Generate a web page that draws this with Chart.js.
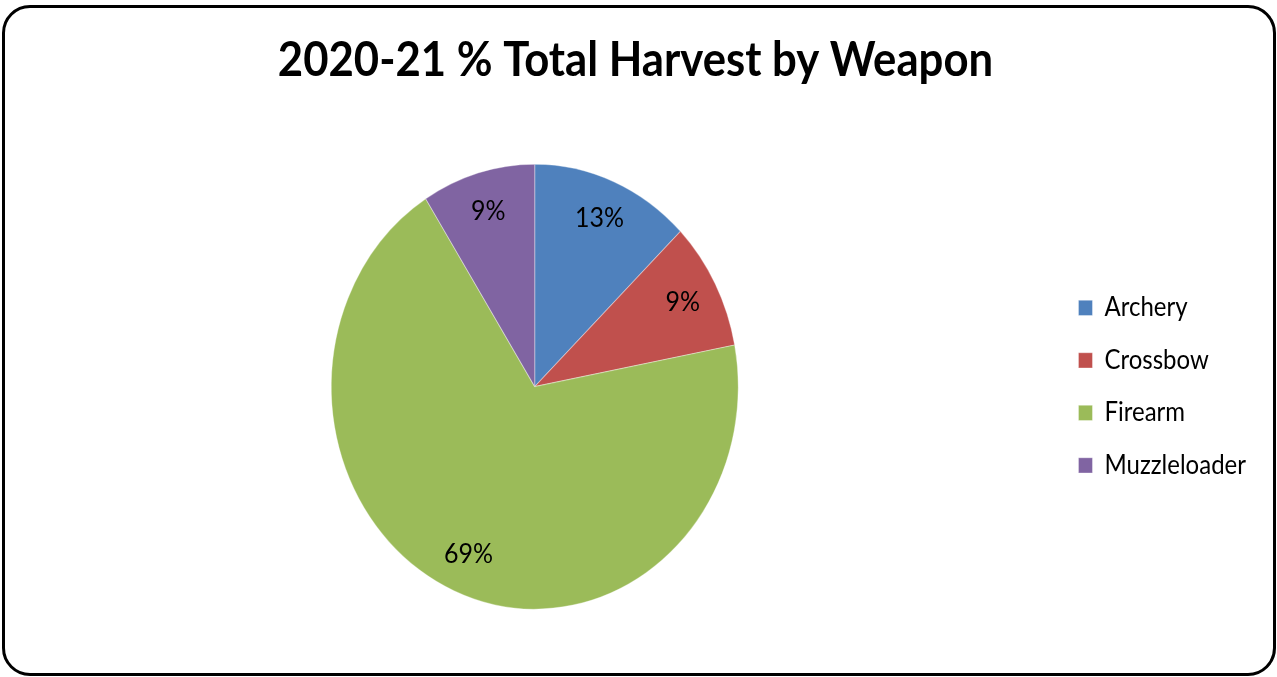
<!DOCTYPE html>
<html lang="en">

<head>
  <meta charset="UTF-8" />
  <title>2020-21 % Total Harvest by Weapon</title>
  <script src="https://cdn.jsdelivr.net/npm/chart.js"></script>
  <style>
    * {
      box-sizing: border-box;
      margin: 0;
      padding: 0
    }

    body {
      background: #fff;
      width: 1277px;
      height: 677px;
      overflow: hidden;
      position: relative
    }

    .frame {
      position: absolute;
      left: 2px;
      top: 5px;
      width: 1274px;
      height: 671px;
      border: 3px solid #000;
      border-radius: 28px
    }

    #grafico {
      position: absolute;
      left: 0;
      top: 0
    }
  </style>
</head>

<body>
  <div class="frame"></div>
  <canvas id="grafico" width="1277" height="677"></canvas>
  <script>
    const categories = ['Archery', 'Crossbow', 'Firearm', 'Muzzleloader'];
    const harvestShare = [12.7, 9.3, 69.0, 9.0];
    const sliceColors = ['#4F81BD', '#C0504D', '#9BBB59', '#8064A2'];

    const FONT = 'Lato, "Open Sans", sans-serif';
    // the original picture is a little taller than wide
    const SY = 1.093;

    const stretch = {
      id: 'stretch',
      beforeDraw(chart) { chart.ctx.save(); chart.ctx.scale(1, SY); },
      afterDraw(chart) { chart.ctx.restore(); }
    };

    const percentLabels = {
      id: 'percentLabels',
      afterDatasetsDraw(chart) {
        const ctx = chart.ctx;
        const meta = chart.getDatasetMeta(0);
        const values = chart.data.datasets[0].data;
        const total = values.reduce((a, b) => a + b, 0);
        ctx.save();
        ctx.font = '25px ' + FONT;
        ctx.fillStyle = '#000';
        ctx.textAlign = 'center';
        ctx.textBaseline = 'middle';
        meta.data.forEach((arc, i) => {
          const p = arc.getProps(['x', 'y', 'startAngle', 'endAngle', 'outerRadius'], true);
          const mid = (p.startAngle + p.endAngle) / 2;
          const r = p.outerRadius * 0.82;
          ctx.fillText(Math.round(values[i] / total * 100) + '%', p.x + Math.cos(mid) * r, p.y + Math.sin(mid) * r);
        });
        ctx.restore();
      }
    };

    new Chart(document.getElementById('grafico'), {
      type: 'pie',
      data: {
        labels: categories,
        datasets: [{
          data: harvestShare,
          backgroundColor: sliceColors,
          borderColor: 'rgba(255,255,255,0.35)',
          borderWidth: 1,
          radius: 203.5
        }]
      },
      options: {
        responsive: false,
        devicePixelRatio: 1,
        animation: false,
        layout: { padding: { left: 15, right: 21, top: 0, bottom: 61 } },
        plugins: {
          title: {
            display: true,
            text: '2020-21 % Total Harvest by Weapon',
            color: '#000',
            font: { family: FONT, size: 43.7, weight: 'bold', lineHeight: 1.2 },
            padding: { top: 29, bottom: 10 }
          },
          legend: {
            position: 'right',
            fullSize: false,
            labels: {
              color: '#000',
              font: { family: FONT, size: 24 },
              boxWidth: 14,
              boxHeight: 14,
              padding: 24
            }
          },
          tooltip: { enabled: false }
        }
      },
      plugins: [stretch, percentLabels]
    });
  </script>
</body>

</html>
